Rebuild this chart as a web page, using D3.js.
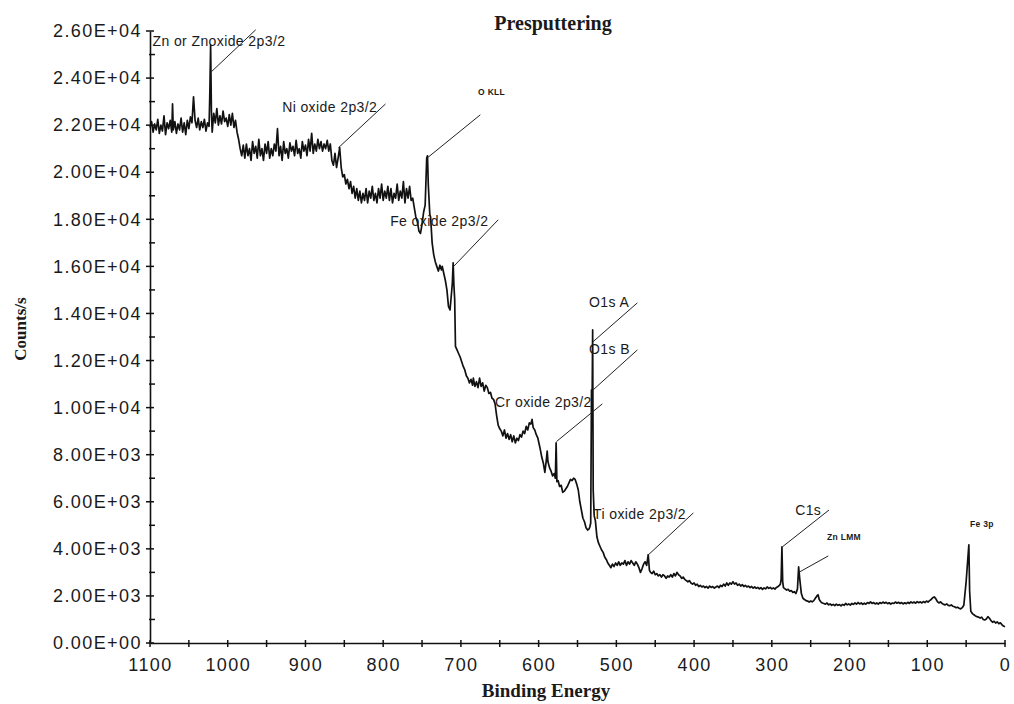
<!DOCTYPE html>
<html>
<head>
<meta charset="utf-8">
<script src="https://cdn.jsdelivr.net/npm/d3@7"></script>
<style>
  html, body { margin: 0; padding: 0; background: #fff; }
  svg { display: block; }
  .tick text { font-family: "Liberation Sans", Arial, sans-serif; font-size: 18px; letter-spacing: 1.4px; fill: #1a1a1a; }
  .peak-label { font-family: "Liberation Sans", Arial, sans-serif; font-size: 14px; letter-spacing: 0.4px; fill: #1a1a1a; }
  .peak-label.small { font-size: 8.5px; font-weight: bold; letter-spacing: 0.3px; }
  .serif { font-family: "Liberation Serif", "Times New Roman", serif; font-weight: bold; fill: #1a1a1a; }
</style>
</head>
<body>
<svg id="chart" width="1014" height="704"></svg>
<script>
// XPS survey spectrum, [binding energy (eV), counts/s]
// High binding-energy part: Zn 2p, Ni 2p, O KLL
const spectrumHigh = [
  [1100,21900],[1098,22150],[1096,21700],[1094,22050],[1092,21800],[1090,22250],[1088,21650],[1086,22000],
  [1084,21750],[1082,22400],[1080,21600],[1078,22100],[1076,21850],[1074,22200],[1072,21700],[1071,22900],
  [1070,21800],[1068,22150],[1066,21650],[1064,22050],[1062,21800],[1060,22300],[1058,21700],[1056,22100],
  [1054,21600],[1052,22200],[1050,21850],[1048,22350],[1046,22100],[1044,23200],[1042,22200],[1040,21900],
  [1038,22300],[1036,21800],[1034,22150],[1032,21900],[1030,22250],[1028,21750],[1026,22100],[1024,21950],
  [1023,23400],[1022,25400],[1021,22600],[1020,21700],[1018,22500],[1016,22100],[1014,22700],[1012,22000],
  [1010,22400],[1008,22050],[1006,22600],[1004,22150],[1002,22300],[1000,21950],[998,22450],[996,22000],
  [994,22500],[992,21900],[990,22200],[988,21700],[986,21400],[984,21000],[982,20700],[980,21150],
  [978,20600],[976,21200],[974,20700],[972,21000],[970,20500],[968,21300],[966,20800],[964,21100],
  [962,20600],[960,21400],[958,20700],[956,21000],[954,20500],[952,21200],[950,20800],[948,21300],
  [946,20600],[944,21000],[942,20700],[940,21200],[938,20900],[936,21850],[934,20700],[932,21100],
  [930,20500],[928,21300],[926,20800],[924,21000],[922,20600],[920,21250],[918,20900],[916,21100],
  [914,20700],[912,21350],[910,20800],[908,21000],[906,20600],[904,21300],[902,20900],[900,21150],
  [898,20700],[896,21400],[894,20900],[892,21650],[890,20800],[888,21200],[886,20900],[884,21400],
  [882,21000],[880,21300],[878,20900],[876,21200],[874,21000],[872,21350],[870,20900],[868,21200],
  [866,20500],[864,20300],[862,20800],[860,20200],[858,20600],[856,21050],[854,20200],[852,19800],
  [850,19900],[848,19500],[846,19700],[844,19300],[842,19600],[840,19100],[838,19400],[836,18900],
  [834,19300],[832,18800],[830,19200],[828,18700],[826,19100],[824,18800],[822,19300],[820,18700],
  [818,19200],[816,18900],[814,19400],[812,18800],[810,19100],[808,18700],[806,19300],[804,18900],
  [802,19500],[800,18800],[798,19200],[796,18900],[794,19400],[792,18800],[790,19300],[788,18700],
  [786,19100],[784,18900],[782,19500],[780,18800],[778,19200],[776,18900],[774,19600],[772,18700],
  [770,19300],[768,18900],[766,19400],[764,18800],[762,18900],[760,18500],[758,18100],[756,17900],
  [754,17500],[752,17400],[750,17800],[748,18300],[746,18600],[744,20600],[743,20700]
];

// Transition-metal region: Fe 2p, Cr 2p, O 1s
const spectrumMetal = [
  [742,19500],[740,18200],[739,18100],[737,17000],[735,16500],[733,16200],[731,16000],[729,15800],
  [727,16050],[725,15850],[724,16000],[722,15700],[720,15400],[718,15000],[716,14300],[714,14150],
  [712,14900],[711,15300],[710,16150],[709,15200],[708,14600],[707,12600],[705,12450],[703,12300],
  [701,12150],[699,11950],[697,11750],[695,11600],[693,11350],[691,11250],[689,11050],[687,11200],
  [685,10950],[684,11250],[682,10900],[680,11100],[678,10850],[676,11250],[674,10900],[672,11050],
  [670,10700],[668,10950],[666,10850],[664,10600],[662,10650],[660,10400],[658,10350],[656,10150],
  [654,9650],[652,9250],[650,9100],[648,9000],[646,8800],[644,9050],[642,8700],[640,8900],
  [638,8650],[636,8850],[634,8550],[632,8800],[630,8500],[628,8700],[626,8600],[624,8850],
  [622,8750],[620,9000],[618,8900],[616,9200],[614,9050],[612,9350],[610,9300],[608.5,9500],
  [607,9150],[605,9050],[603,8850],[601,8700],[599,8400],[598,8250],[596,7900],[594,7650],
  [592,7250],[590,7800],[589,8150],[588,7700],[586,7450],[584,7300],[582,7100],[580,7200],
  [578.5,7000],[577.5,8500],[576.5,6850],[575,6900],[573,6650],[571,6700],[569,6400],[567,6450],
  [565,6550],[563,6650],[561,6800],[559,6950],[557,6900],[555,7000],[553,6950],[551,6750],
  [549,6500],[547,6000],[545,5650],[543,5300],[541,5150],[539,4900],[537,4800],[535,4850],
  [534,4950],[533,5100],[532,10750],[531.3,9800],[530.5,13300],[529.8,6500],[528.5,5400],[527,5200],
  [525,4500],[523,4250],[521,4100],[519,3950],[517,3850],[515,3650],[513,3550],[511,3400]
];

// Low binding-energy part: Ti 2p, C 1s, Zn LMM, Fe 3p
const spectrumLow = [
  [509,3300],[507,3200],[505,3350],[503,3250],[501,3400],[499,3300],[497,3450],[495,3300],
  [493,3400],[491,3350],[489,3500],[487,3300],[485,3450],[483,3350],[481,3500],[479,3400],
  [477,3300],[475,3450],[473,3350],[471,3200],[469,3000],[467,3150],[465,3350],[463,3450],
  [461,3300],[459,3750],[457.5,3100],[456,3000],[454,2950],[452,3050],[450,2900],[448,2950],
  [446,2850],[444,2900],[442,2800],[440,2900],[438,2850],[436,2750],[434,2850],[432,2800],
  [430,2900],[428,2800],[426,2950],[424,2850],[422,3000],[420,2900],[418,2850],[416,2750],
  [414,2800],[412,2700],[410,2650],[408,2600],[406,2650],[404,2550],[402,2500],[400,2550],
  [398,2450],[396,2500],[394,2400],[392,2450],[390,2380],[388,2420],[386,2350],[384,2400],
  [382,2330],[380,2420],[378,2360],[376,2400],[374,2330],[372,2380],[370,2420],[368,2350],
  [366,2450],[364,2400],[362,2500],[360,2420],[358,2550],[356,2450],[354,2550],[352,2500],
  [350,2600],[348,2500],[346,2550],[344,2450],[342,2500],[340,2420],[338,2480],[336,2400],
  [334,2450],[332,2380],[330,2420],[328,2350],[326,2400],[324,2330],[322,2380],[320,2320],
  [318,2360],[316,2300],[314,2350],[312,2280],[310,2340],[308,2300],[306,2380],[304,2320],
  [302,2360],[300,2300],[298,2340],[296,2290],[294,2360],[292,2400],[290,2460],[289,2500],
  [288,2700],[287,4080],[286,2600],[285,2350],[283,2300],[281,2250],[279,2280],[277,2200],
  [275,2230],[273,2150],[271,2180],[269,2100],[267,2300],[265.5,3230],[264,2700],[262,2100],
  [260,1900],[258,1850],[256,1800],[254,1780],[252,1740],[250,1780],[248,1750],[246,1800],
  [244,1900],[242,2000],[240.5,2050],[239,1850],[237,1750],[235,1700],[233,1680],[231,1650],
  [229,1700],[227,1620],[225,1660],[223,1600],[221,1640],[219,1590],[217,1650],[215,1600],
  [213,1630],[211,1580],[209,1640],[207,1600],[205,1680],[203,1620],[201,1660],[199,1610],
  [197,1680],[195,1640],[193,1700],[191,1650],[189,1720],[187,1660],[185,1700],[183,1640],
  [181,1690],[179,1650],[177,1720],[175,1680],[173,1750],[171,1680],[169,1720],[167,1660],
  [165,1700],[163,1650],[161,1720],[159,1680],[157,1740],[155,1690],[153,1730],[151,1670],
  [149,1710],[147,1650],[145,1700],[143,1680],[141,1740],[139,1690],[137,1730],[135,1680],
  [133,1720],[131,1660],[129,1710],[127,1670],[125,1730],[123,1680],[121,1750],[119,1700],
  [117,1740],[115,1690],[113,1760],[111,1710],[109,1750],[107,1700],[105,1760],[103,1720],
  [101,1780],[99,1740],[97,1800],[95,1850],[93,1920],[91,1960],[89,1880],[87,1760],
  [85,1700],[83,1750],[81,1680],[79,1640],[77,1620],[75,1660],[73,1600],[71,1580],
  [69,1620],[67,1560],[65,1540],[63,1500],[61,1520],[59,1480],[57,1450],[55,1500],
  [53,1600],[50,2600],[48,3500],[46.5,4170],[45.5,2200],[44,1350],[42,1250],[40,1200],
  [38,1150],[36,1120],[34,1100],[32,1060],[30,1100],[28,1000],[26,980],[24,1020],
  [22,1120],[20,1050],[18,950],[16,880],[14,920],[12,850],[10,900],[8,820],
  [6,860],[4,780],[2,720],[0,690]
];

// Axis ticks
const xTicks = [1100, 1000, 900, 800, 700, 600, 500, 400, 300, 200, 100, 0];
const xTickLabels = ["1100", "1000", "900", "800", "700", "600", "500", "400", "300", "200", "100", "0"];
const xMinorTicks = [1050, 950, 850, 750, 650, 550, 450, 350, 250, 150, 50];
const yTicks = [0, 2000, 4000, 6000, 8000, 10000, 12000, 14000, 16000, 18000, 20000, 22000, 24000, 26000];
const yTickLabels = ["0.00E+00", "2.00E+03", "4.00E+03", "6.00E+03", "8.00E+03", "1.00E+04", "1.20E+04",
                     "1.40E+04", "1.60E+04", "1.80E+04", "2.00E+04", "2.20E+04", "2.40E+04", "2.60E+04"];
const yMinorTicks = [1000, 3000, 5000, 7000, 9000, 11000, 13000, 15000, 17000, 19000, 21000, 23000, 25000];

// Peak assignments: label text, leader start (on the peak) and end, label anchor — all in [eV, counts]
const peakNames = ["Zn or Znoxide 2p3/2", "Ni oxide 2p3/2", "O KLL", "Fe oxide 2p3/2", "O1s A", "O1s B",
                   "Cr oxide 2p3/2", "Ti oxide 2p3/2", "C1s", "Zn LMM", "Fe 3p"];
const leaderFrom = [[1021, 24270], [857.6, 21040], [743.2, 20610], [709.3, 16000], [530, 12800], [530, 10750],
                    [577, 8560], [459, 3740], [286.6, 4080], [263.7, 3030], null];
const leaderTo = [[964, 26050], [797, 22900], [675, 22440], [652, 17980], [473, 14450], [473, 12450],
                  [518, 10160], [401, 5525], [226.4, 5650], [227.3, 3700], null];
const labelAt = [[1096.8, 25360], [930, 22560], [677.9, 23290], [791, 17720], [535.2, 14280], [535.2, 12280],
                 [656, 10040], [530, 5270], [270, 5440], [229, 4380], [45, 4940]];
const smallLabels = ["O KLL", "Zn LMM", "Fe 3p"];

const spectrum = [...spectrumHigh, ...spectrumMetal, ...spectrumLow];

const svg = d3.select("#chart");
svg.append("rect").attr("width", 1014).attr("height", 704).attr("fill", "#fff");

const x = d3.scaleLinear().domain([1100, 0]).range([150, 1005]);
const y = d3.scaleLinear().domain([0, 26000]).range([643, 31]);

// Spectrum trace
svg.append("path")
  .datum(spectrum)
  .attr("fill", "none")
  .attr("stroke", "#111")
  .attr("stroke-width", 1.7)
  .attr("stroke-linejoin", "round")
  .attr("d", d3.line().x(d => x(d[0])).y(d => y(d[1])));

// Axes
const yAxis = svg.append("g")
  .attr("transform", "translate(150,0)")
  .call(d3.axisLeft(y).tickValues(yTicks).tickFormat((d, i) => yTickLabels[i])
    .tickSize(0).tickSizeOuter(0).tickPadding(10));
const xAxis = svg.append("g")
  .attr("transform", "translate(0,643)")
  .call(d3.axisBottom(x).tickValues(xTicks).tickFormat((d, i) => xTickLabels[i])
    .tickSize(0).tickSizeOuter(0).tickPadding(15));
[yAxis, xAxis].forEach(g => g.select(".domain").attr("stroke", "#111").attr("stroke-width", 1.6));
yAxis.selectAll(".tick text").attr("dx", "0.1em");

// Tick marks crossing the axes
const tickG = svg.append("g").attr("stroke", "#111").attr("stroke-width", 1.5);
tickG.selectAll(".ymaj").data(yTicks).join("line")
  .attr("x1", 146).attr("x2", 154).attr("y1", d => y(d)).attr("y2", d => y(d));
tickG.selectAll(".ymin").data(yMinorTicks).join("line")
  .attr("x1", 149).attr("x2", 155).attr("y1", d => y(d)).attr("y2", d => y(d));
tickG.selectAll(".xmaj").data(xTicks).join("line")
  .attr("x1", d => x(d)).attr("x2", d => x(d)).attr("y1", 640).attr("y2", 647);
tickG.selectAll(".xmin").data(xMinorTicks).join("line")
  .attr("x1", d => x(d)).attr("x2", d => x(d)).attr("y1", 640).attr("y2", 647);

// Peak leaders and labels
const ann = svg.append("g");
peakNames.forEach((name, i) => {
  if (leaderFrom[i]) {
    ann.append("line")
      .attr("x1", x(leaderFrom[i][0])).attr("y1", y(leaderFrom[i][1]))
      .attr("x2", x(leaderTo[i][0])).attr("y2", y(leaderTo[i][1]))
      .attr("stroke", "#222").attr("stroke-width", 1);
  }
  ann.append("text")
    .attr("class", smallLabels.includes(name) ? "peak-label small" : "peak-label")
    .attr("x", x(labelAt[i][0])).attr("y", y(labelAt[i][1]))
    .text(name);
});

// Titles
svg.append("text").attr("class", "serif").attr("font-size", 20)
  .attr("x", 553).attr("y", 30).attr("text-anchor", "middle").text("Presputtering");
svg.append("text").attr("class", "serif").attr("font-size", 19)
  .attr("x", 546).attr("y", 697).attr("text-anchor", "middle").text("Binding Energy");
svg.append("text").attr("class", "serif").attr("font-size", 17)
  .attr("transform", "translate(26,329) rotate(-90)").attr("text-anchor", "middle").text("Counts/s");
</script>
</body>
</html>
